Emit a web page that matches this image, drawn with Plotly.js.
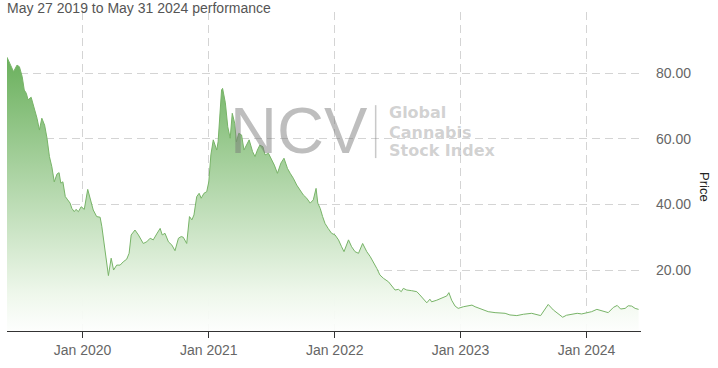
<!DOCTYPE html>
<html>
<head>
<meta charset="utf-8">
<script src="https://cdn.plot.ly/plotly-3.0.1.min.js"></script>
<style>html,body{margin:0;padding:0;background:#fff;}#chart{width:718px;height:368px;}</style>
</head>
<body>
<div id="chart"></div>
<script>
const chartTitle = 'May 27 2019 to May 31 2024 performance';
const yTitle = 'Price';
const watermarkBig = 'NCV';
const watermarkLines = ['Global', 'Cannabis', 'Stock Index'];

const dates = [
'2019-05-27','2019-06-15','2019-06-25','2019-07-02','2019-07-10','2019-07-16','2019-07-22','2019-07-27','2019-08-05','2019-08-12','2019-08-22','2019-08-29','2019-09-05','2019-09-13','2019-09-20','2019-09-27','2019-10-04','2019-10-11','2019-10-19','2019-10-25','2019-10-30','2019-11-05','2019-11-12','2019-11-19','2019-11-26','2019-12-01','2019-12-08','2019-12-13','2019-12-20','2019-12-28',
'2020-01-06','2020-01-16','2020-01-25','2020-02-01','2020-02-11','2020-02-21','2020-02-26','2020-03-04','2020-03-09','2020-03-16','2020-03-24','2020-03-31','2020-04-09','2020-04-19','2020-04-28','2020-05-08','2020-05-15','2020-05-21','2020-06-01','2020-06-11','2020-06-25','2020-07-05','2020-07-15','2020-07-24','2020-08-03','2020-08-13','2020-08-19','2020-08-27','2020-09-06','2020-09-16','2020-09-25','2020-10-05','2020-10-13','2020-10-19','2020-10-29','2020-11-06','2020-11-13','2020-11-19','2020-11-27','2020-12-04','2020-12-10','2020-12-18','2020-12-26',
'2021-01-01','2021-01-07','2021-01-14','2021-01-24','2021-01-28','2021-02-07','2021-02-10','2021-02-18','2021-02-25','2021-03-04','2021-03-10','2021-03-17','2021-03-22','2021-03-29','2021-04-06','2021-04-13','2021-04-21','2021-04-28','2021-05-08','2021-05-15','2021-05-22','2021-05-29','2021-06-07','2021-06-13','2021-06-23','2021-06-30','2021-07-10','2021-07-19','2021-07-29','2021-08-07','2021-08-17','2021-08-25','2021-09-03','2021-09-13','2021-09-23','2021-10-02','2021-10-12','2021-10-22','2021-10-31','2021-11-08','2021-11-13','2021-11-20','2021-11-27','2021-12-04','2021-12-13','2021-12-23',
'2022-01-02','2022-01-12','2022-01-21','2022-01-28','2022-02-10','2022-02-19','2022-03-01','2022-03-11','2022-03-23','2022-04-04','2022-04-14','2022-04-23','2022-05-03','2022-05-12','2022-05-22','2022-06-06','2022-06-16','2022-06-25','2022-07-05','2022-07-13','2022-07-19','2022-07-29','2022-08-12','2022-08-27','2022-09-05','2022-09-15','2022-09-25','2022-10-04','2022-10-09','2022-10-24','2022-11-07','2022-11-22','2022-11-28','2022-12-06','2022-12-16','2022-12-25',
'2023-01-09','2023-01-24','2023-02-03','2023-02-12','2023-03-03','2023-03-22','2023-04-11','2023-04-30','2023-05-10','2023-05-24','2023-06-13','2023-07-02','2023-07-26','2023-08-21','2023-09-03','2023-09-12','2023-09-27','2023-10-11','2023-10-24','2023-11-04','2023-11-19','2023-12-05','2023-12-18',
'2024-01-01','2024-01-16','2024-01-31','2024-02-14','2024-03-04','2024-03-19','2024-03-30','2024-04-09','2024-04-22','2024-05-01','2024-05-11','2024-05-21','2024-05-31'
];

const prices = [
84.9,80.5,82.5,82.0,79.0,74.9,73.9,71.9,72.7,70.3,66.3,62.7,66.3,64.2,60.2,54.6,51.5,46.9,49.3,49.7,46.5,46.9,42.4,41.4,40.4,38.8,37.8,38.5,37.8,39.3,
38.5,44.6,40.8,38.3,36.3,36.1,33.2,28.1,23.1,18.3,23.6,20.0,21.5,21.5,22.5,23.3,25.1,30.7,32.2,30.7,28.1,28.6,29.7,29.2,31.0,32.7,30.7,31.2,28.6,27.6,25.9,29.7,30.2,30.0,28.1,36.3,35.3,36.8,42.4,43.4,41.9,43.4,43.9,
46.9,55.1,59.7,56.6,59.1,74.9,75.4,71.0,63.7,60.2,67.8,64.8,59.1,61.7,61.2,56.6,58.1,59.7,56.1,54.6,56.6,58.1,57.6,55.1,55.6,54.1,52.0,49.5,52.6,54.1,51.0,49.5,48.0,45.9,44.4,42.9,41.9,40.4,41.4,44.9,40.4,38.8,36.3,34.2,32.7,31.2,
30.7,29.2,27.1,25.6,29.2,27.1,25.6,25.1,28.1,25.6,24.1,22.5,20.5,18.5,17.5,16.4,14.9,13.9,14.1,13.4,14.4,13.9,13.7,13.4,12.4,11.1,10.0,11.1,10.3,10.8,11.5,12.1,13.1,10.8,9.0,8.3,
8.8,9.0,9.3,8.8,8.0,7.3,7.0,6.8,6.8,6.3,6.1,6.5,6.8,6.1,8.0,9.5,7.8,6.8,5.6,6.2,6.5,6.8,6.6,
7.0,7.3,8.0,7.5,7.0,8.6,9.2,8.1,8.3,9.1,9.0,8.3,8.0
];

const xRange = ['2019-05-27', '2024-06-07'];
const yRange = [1.4, 98.7];

const trace = {
  x: dates, y: prices, type: 'scatter', mode: 'lines',
  line: {color: '#78b468', width: 1},
  fill: 'tozeroy',
  fillgradient: {
    type: 'vertical', start: 0, stop: 86,
    colorscale: [[0, 'rgba(255,255,255,0.9)'], [0.15, 'rgb(238,247,235)'], [1, 'rgb(104,175,90)']]
  },
  hoverinfo: 'skip'
};

const gridCol = '#d4d4d4';
const wmFont = {size: 16, color: 'rgba(125,125,125,0.36)', family: 'DejaVu Sans, Liberation Sans, sans-serif', weight: 'bold'};
const layout = {
  width: 718, height: 368,
  margin: {l: 7, r: 77, t: 12, b: 37},
  paper_bgcolor: '#fff', plot_bgcolor: '#fff',
  showlegend: false,
  font: {family: 'Liberation Sans, Arial, sans-serif', color: '#666', size: 14},
  title: {
    text: chartTitle, x: 0, xref: 'paper', xanchor: 'left',
    y: 0.978, yref: 'container', yanchor: 'middle',
    font: {size: 14, color: '#555', family: 'Liberation Sans, Arial, sans-serif'}
  },
  xaxis: {
    type: 'date', range: xRange,
    tick0: '2020-01-01', dtick: 'M12', tickformat: '%b %Y',
    showgrid: true, gridcolor: gridCol, griddash: '8px,5px', gridwidth: 1,
    showline: true, linecolor: '#333', linewidth: 1,
    ticks: 'outside', ticklen: 6, tickcolor: '#333',
    tickfont: {size: 14, color: '#666'},
    zeroline: false, fixedrange: true
  },
  yaxis: {
    range: yRange, side: 'right',
    tick0: 0, dtick: 20, tickformat: '.2f',
    showgrid: true, gridcolor: gridCol, griddash: '8px,5px', gridwidth: 1,
    showline: false, ticks: '', ticklabelstandoff: 14,
    tickfont: {size: 14, color: '#666'},
    zeroline: false, fixedrange: true
  },
  annotations: [
    {text: yTitle, xref: 'paper', yref: 'paper', x: 1.101, y: 0.451, textangle: 90,
     showarrow: false, xanchor: 'center', yanchor: 'middle', font: {size: 13, color: '#222'}},
    {text: watermarkBig, xref: 'paper', yref: 'paper', x: 0.461, y: 0.627,
     showarrow: false, xanchor: 'center', yanchor: 'middle',
     font: {size: 65, color: 'rgba(120,120,120,0.48)', family: 'Liberation Sans, Arial, sans-serif'}},
    {text: watermarkLines[0], xref: 'paper', yref: 'paper', x: 0.6, y: 0.6834,
     showarrow: false, xanchor: 'left', yanchor: 'middle', font: wmFont},
    {text: watermarkLines[1], xref: 'paper', yref: 'paper', x: 0.6, y: 0.6238,
     showarrow: false, xanchor: 'left', yanchor: 'middle', font: wmFont},
    {text: watermarkLines[2], xref: 'paper', yref: 'paper', x: 0.6, y: 0.5643,
     showarrow: false, xanchor: 'left', yanchor: 'middle', font: wmFont}
  ],
  shapes: [
    {type: 'line', xref: 'paper', yref: 'paper', x0: 0.5815, x1: 0.5815, y0: 0.542, y1: 0.708,
     line: {color: 'rgba(120,120,120,0.4)', width: 1.5}}
  ]
};

Plotly.newPlot('chart', [trace], layout, {staticPlot: true, displayModeBar: false});
</script>
</body>
</html>
